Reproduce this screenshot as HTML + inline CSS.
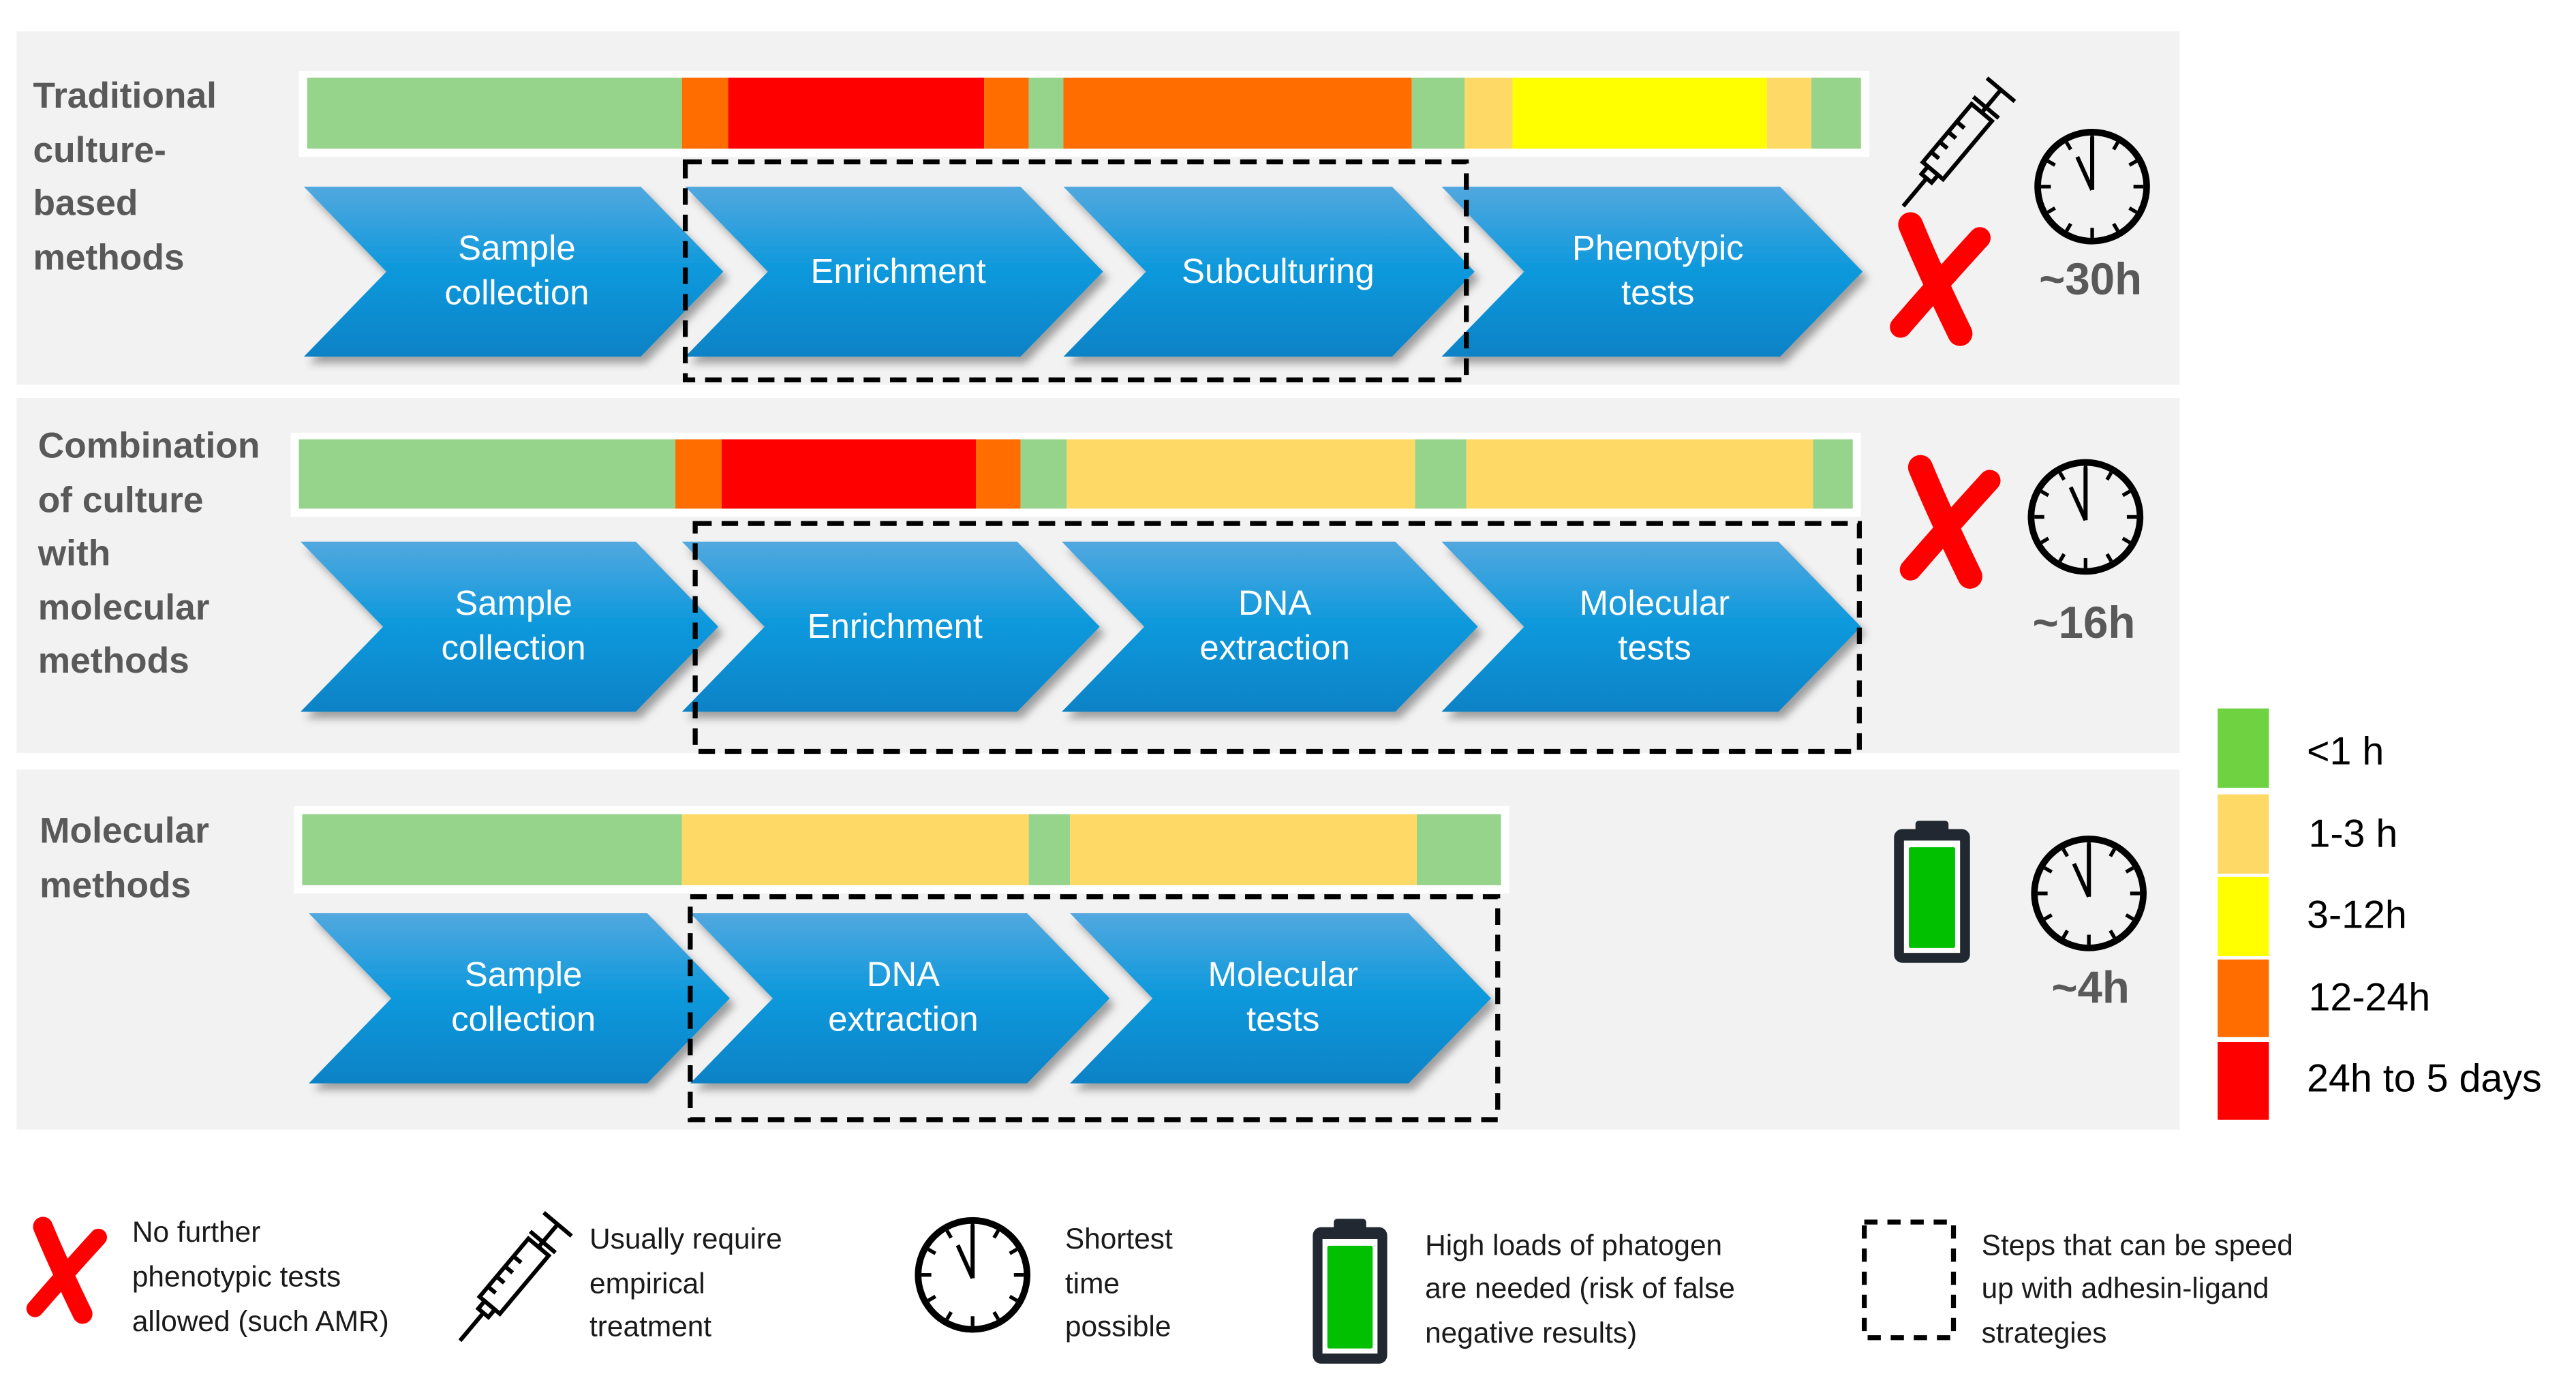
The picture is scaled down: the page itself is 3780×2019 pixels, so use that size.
<!DOCTYPE html>
<html><head><meta charset="utf-8"><style>
html,body{margin:0;padding:0;background:#fff;}
svg{display:block;}
text{font-family:"Liberation Sans",sans-serif;}
</style></head><body>
<svg width="3780" height="2019" viewBox="0 0 1560 833.2" preserveAspectRatio="none" xmlns="http://www.w3.org/2000/svg">
<defs>
<linearGradient id="cg" x1="0" y1="0" x2="0" y2="1">
<stop offset="0" stop-color="#52a8df"/><stop offset="0.5" stop-color="#0a98dc"/><stop offset="1" stop-color="#0782c6"/>
</linearGradient>
<filter id="sh" x="-10%" y="-10%" width="130%" height="140%"><feDropShadow dx="3" dy="4" stdDeviation="2.5" flood-color="#000" flood-opacity="0.35"/></filter>
<g id="clock">
<circle cx="0" cy="0" r="33" fill="none" stroke="#000" stroke-width="4"/>
<g stroke="#000" stroke-width="2.2">
<line x1="0" y1="-31" x2="0" y2="-25"/><line x1="0" y1="31" x2="0" y2="25"/>
<line x1="-31" y1="0" x2="-25" y2="0"/><line x1="31" y1="0" x2="25" y2="0"/>
<line x1="15.5" y1="-26.8" x2="13" y2="-22.5"/><line x1="26.8" y1="-15.5" x2="22.5" y2="-13"/>
<line x1="26.8" y1="15.5" x2="22.5" y2="13"/><line x1="15.5" y1="26.8" x2="13" y2="22.5"/>
<line x1="-15.5" y1="26.8" x2="-13" y2="22.5"/><line x1="-26.8" y1="15.5" x2="-22.5" y2="13"/>
<line x1="-26.8" y1="-15.5" x2="-22.5" y2="-13"/><line x1="-15.5" y1="-26.8" x2="-13" y2="-22.5"/>
</g>
<line x1="0" y1="2" x2="0" y2="-30" stroke="#000" stroke-width="2.5"/>
<line x1="0" y1="2" x2="-9" y2="-18" stroke="#000" stroke-width="2.5"/>
</g>
<g id="xmark">
<path d="M-20,-34 Q-8,-5 10,32" stroke="#f00" stroke-width="15" fill="none" stroke-linecap="round"/>
<path d="M22,-26 Q0,-2 -26,28" stroke="#f00" stroke-width="13" fill="none" stroke-linecap="round"/>
</g>
<g id="syr">
<g transform="rotate(-50)" fill="none" stroke="#000" stroke-width="2.5">
<line x1="-52" y1="0" x2="-30" y2="0"/>
<rect x="-30" y="-4" width="6" height="8"/>
<rect x="-24" y="-8" width="46" height="16"/>
<line x1="-16" y1="-8" x2="-16" y2="-2"/><line x1="-8" y1="-8" x2="-8" y2="-2"/><line x1="0" y1="-8" x2="0" y2="-2"/><line x1="8" y1="-8" x2="8" y2="-2"/>
<line x1="22" y1="0" x2="40" y2="0"/>
<line x1="40" y1="-11" x2="40" y2="11"/>
<line x1="26" y1="-10" x2="26" y2="10"/>
</g>
</g>
<g id="batt">
<rect x="13" y="0" width="20" height="8" rx="2" fill="#222831"/>
<rect x="0" y="5" width="46" height="81" rx="5" fill="#222831"/>
<rect x="6" y="12" width="34" height="68" fill="#fff"/>
<rect x="9" y="16" width="28" height="61" rx="1" fill="#00c000"/>
</g>
</defs>

<rect x="10" y="19" width="1310" height="214" fill="#f2f2f2"/>
<rect x="10" y="241" width="1310" height="215" fill="#f2f2f2"/>
<rect x="10" y="466" width="1310" height="218" fill="#f2f2f2"/>

<rect x="181" y="43" width="951" height="52" fill="#fff"/>
<rect x="186" y="47" width="227" height="43" fill="#96d38b"/>
<rect x="413" y="47" width="28" height="43" fill="#ff6d00"/>
<rect x="441" y="47" width="155" height="43" fill="#ff0000"/>
<rect x="596" y="47" width="27" height="43" fill="#ff6d00"/>
<rect x="623" y="47" width="21" height="43" fill="#96d38b"/>
<rect x="644" y="47" width="211" height="43" fill="#ff6d00"/>
<rect x="855" y="47" width="32" height="43" fill="#96d38b"/>
<rect x="887" y="47" width="29" height="43" fill="#ffd966"/>
<rect x="916" y="47" width="154" height="43" fill="#ffff00"/>
<rect x="1070" y="47" width="27" height="43" fill="#ffd966"/>
<rect x="1097" y="47" width="30" height="43" fill="#96d38b"/>

<rect x="176" y="262" width="951" height="51" fill="#fff"/>
<rect x="181" y="266" width="228" height="42" fill="#96d38b"/>
<rect x="409" y="266" width="28" height="42" fill="#ff6d00"/>
<rect x="437" y="266" width="154" height="42" fill="#ff0000"/>
<rect x="591" y="266" width="27" height="42" fill="#ff6d00"/>
<rect x="618" y="266" width="28" height="42" fill="#96d38b"/>
<rect x="646" y="266" width="211" height="42" fill="#ffd966"/>
<rect x="857" y="266" width="31" height="42" fill="#96d38b"/>
<rect x="888" y="266" width="210" height="42" fill="#ffd966"/>
<rect x="1098" y="266" width="24" height="42" fill="#96d38b"/>

<rect x="178" y="488" width="736" height="53" fill="#fff"/>
<rect x="183" y="493" width="230" height="43" fill="#96d38b"/>
<rect x="413" y="493" width="210" height="43" fill="#ffd966"/>
<rect x="623" y="493" width="25" height="43" fill="#96d38b"/>
<rect x="648" y="493" width="210" height="43" fill="#ffd966"/>
<rect x="858" y="493" width="51" height="43" fill="#96d38b"/>

<g fill="url(#cg)" filter="url(#sh)">
<polygon points="184,113 388,113 438,164.5 388,216 184,216 234,164.5"/>
<polygon points="415,113 618,113 668,164.5 618,216 415,216 465,164.5"/>
<polygon points="644,113 843,113 893,164.5 843,216 644,216 694,164.5"/>
<polygon points="873,113 1078,113 1128,164.5 1078,216 873,216 923,164.5"/>
<polygon points="182,328 385,328 435,379.5 385,431 182,431 232,379.5"/>
<polygon points="413,328 616,328 666,379.5 616,431 413,431 463,379.5"/>
<polygon points="643,328 845,328 895,379.5 845,431 643,431 693,379.5"/>
<polygon points="873,328 1077,328 1127,379.5 1077,431 873,431 923,379.5"/>
<polygon points="187,553 392,553 442,604.5 392,656 187,656 237,604.5"/>
<polygon points="418,553 622,553 672,604.5 622,656 418,656 468,604.5"/>
<polygon points="648,553 853,553 903,604.5 853,656 648,656 698,604.5"/>
</g>
<g fill="#fff" font-size="21" text-anchor="middle" dominant-baseline="central">
<text x="313" y="150">Sample</text><text x="313" y="177">collection</text>
<text x="544" y="164">Enrichment</text>
<text x="774" y="164">Subculturing</text>
<text x="1004" y="150">Phenotypic</text><text x="1004" y="177">tests</text>
<text x="311" y="365">Sample</text><text x="311" y="392">collection</text>
<text x="542" y="379">Enrichment</text>
<text x="772" y="365">DNA</text><text x="772" y="392">extraction</text>
<text x="1002" y="365">Molecular</text><text x="1002" y="392">tests</text>
<text x="317" y="590">Sample</text><text x="317" y="617">collection</text>
<text x="547" y="590">DNA</text><text x="547" y="617">extraction</text>
<text x="777" y="590">Molecular</text><text x="777" y="617">tests</text>
</g>

<g fill="none" stroke="#000" stroke-width="3" stroke-dasharray="10 6">
<rect x="415" y="98" width="473" height="132"/>
<rect x="421" y="317" width="705" height="138"/>
<rect x="418" y="543" width="489" height="135"/>
</g>

<g fill="#595959" font-size="22" font-weight="bold" dominant-baseline="central">
<text x="20" y="58">Traditional</text><text x="20" y="91">culture-</text><text x="20" y="123">based</text><text x="20" y="156">methods</text>
<text x="23" y="270">Combination</text><text x="23" y="303">of culture</text><text x="23" y="335">with</text><text x="23" y="368">molecular</text><text x="23" y="400">methods</text>
<text x="24" y="503">Molecular</text><text x="24" y="536">methods</text>
</g>

<use href="#syr" transform="translate(1186,85)"/>
<use href="#clock" transform="translate(1267,113)"/>
<use href="#xmark" transform="translate(1177,170)"/>
<use href="#xmark" transform="translate(1183,317)"/>
<use href="#clock" transform="translate(1263,313)"/>
<use href="#batt" transform="translate(1147,497)"/>
<use href="#clock" transform="translate(1265,541)"/>
<g fill="#595959" font-size="27" font-weight="bold" text-anchor="middle" dominant-baseline="central">
<text x="1266" y="169">~30h</text><text x="1262" y="377">~16h</text><text x="1266" y="598">~4h</text>
</g>

<rect x="1343" y="429" width="31" height="48" fill="#6fd240"/>
<rect x="1343" y="481" width="31" height="48" fill="#ffd966"/>
<rect x="1343" y="531" width="31" height="48" fill="#ffff00"/>
<rect x="1343" y="581" width="31" height="47" fill="#ff6d00"/>
<rect x="1343" y="631" width="31" height="47" fill="#ff0000"/>
<g fill="#000" font-size="23.7" dominant-baseline="central">
<text x="1397" y="455">&lt;1 h</text><text x="1398" y="505">1-3 h</text><text x="1397" y="554">3-12h</text><text x="1398" y="604">12-24h</text><text x="1397" y="653">24h to 5 days</text>
</g>

<use href="#xmark" transform="translate(42,770) scale(0.8)"/>
<use href="#syr" transform="translate(312,772)"/>
<use href="#clock" transform="translate(589,772)"/>
<use href="#batt" transform="translate(795,738) scale(0.98,1.02)"/>
<rect x="1129" y="740" width="54" height="70" fill="none" stroke="#000" stroke-width="3" stroke-dasharray="8 6"/>
<g fill="#1a1a1a" font-size="17.5" dominant-baseline="central">
<text x="80" y="746">No further</text><text x="80" y="773">phenotypic tests</text><text x="80" y="800">allowed (such AMR)</text>
<text x="357" y="750">Usually require</text><text x="357" y="777">empirical</text><text x="357" y="803">treatment</text>
<text x="645" y="750">Shortest</text><text x="645" y="777">time</text><text x="645" y="803">possible</text>
<text x="863" y="754">High loads of phatogen</text><text x="863" y="780">are needed (risk of false</text><text x="863" y="807">negative results)</text>
<text x="1200" y="754">Steps that can be speed</text><text x="1200" y="780">up with adhesin-ligand</text><text x="1200" y="807">strategies</text>
</g>
</svg>
</body></html>
